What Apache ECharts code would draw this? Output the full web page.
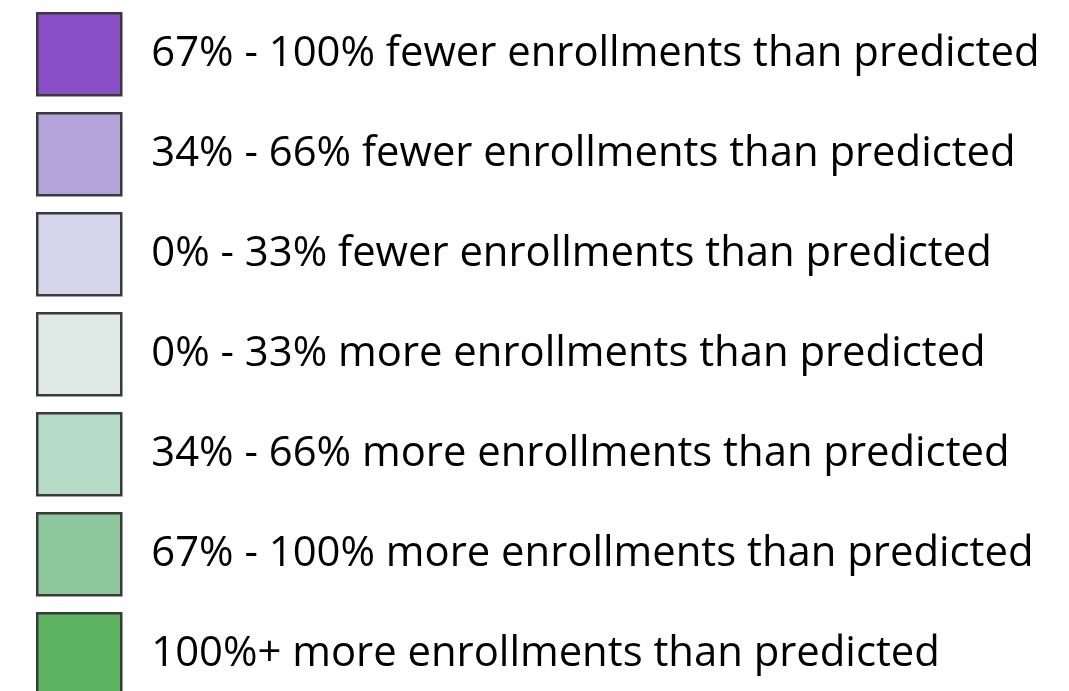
<!DOCTYPE html>
<html>
<head>
<meta charset="utf-8">
<script src="https://cdn.jsdelivr.net/npm/echarts@6/dist/echarts.min.js"></script>
<style>html,body{margin:0;padding:0;background:#fff;}#chart{width:1069px;height:691px;}</style>
</head>
<body>
<div id="chart"></div>
<script>
var categories = [
  "67% - 100% fewer enrollments than predicted",
  "34% - 66% fewer enrollments than predicted",
  "0% - 33% fewer enrollments than predicted",
  "0% - 33% more enrollments than predicted",
  "34% - 66% more enrollments than predicted",
  "67% - 100% more enrollments than predicted",
  "100%+ more enrollments than predicted"
];
var colors = ["#8a4fc6", "#b4a4d9", "#d6d4ea", "#dfe9e6", "#b6dcc7", "#8dc89c", "#5cb461"];

var chart = echarts.init(document.getElementById('chart'));
var series = categories.map(function (name, i) {
  return { name: name, type: 'bar', data: [], itemStyle: { color: colors[i] } };
});
chart.setOption({
  animation: false,
  backgroundColor: '#ffffff',
  grid: { show: false, left: 0, right: 0, top: 0, bottom: 0 },
  xAxis: { type: 'category', show: false, data: [] },
  yAxis: { type: 'value', show: false },
  legend: {
    orient: 'vertical',
    left: 36,
    top: 12,
    height: 900,
    padding: 0,
    icon: 'rect',
    itemWidth: 84,
    itemHeight: 82,
    itemGap: 15.5,
    selectedMode: false,
    itemStyle: { borderColor: '#3a3a3a', borderWidth: 2.5 },
    textStyle: { fontFamily: 'Open Sans', fontSize: 41.8, color: '#000', padding: [0, 0, 12, 25] },
    data: categories
  },
  series: series
});
</script>
</body>
</html>
